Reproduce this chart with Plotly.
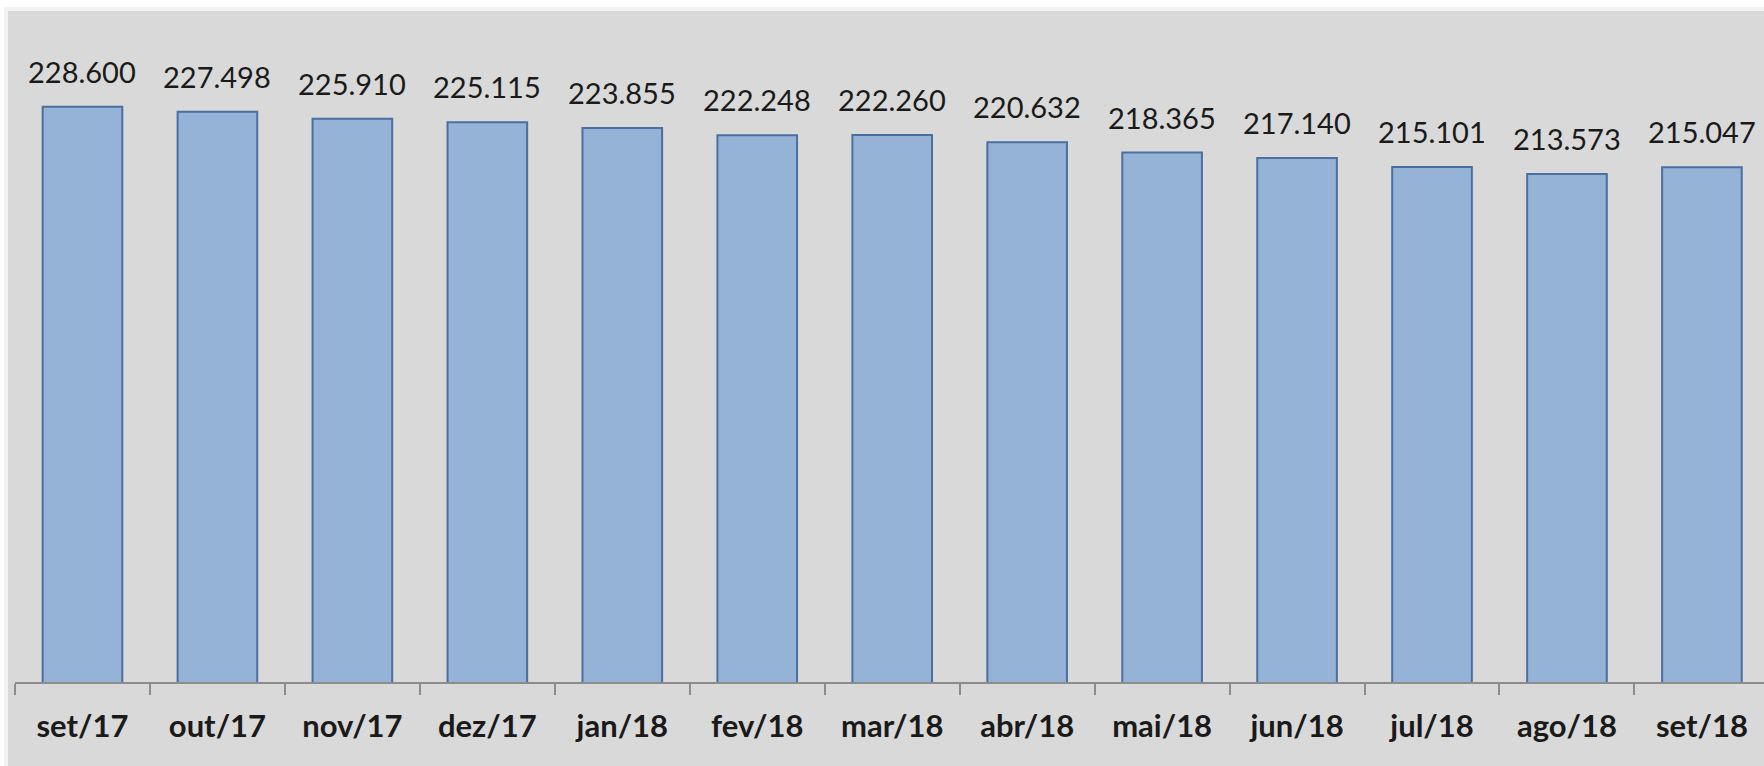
import plotly.graph_objects as go

categories = ["set/17", "out/17", "nov/17", "dez/17", "jan/18", "fev/18", "mar/18",
              "abr/18", "mai/18", "jun/18", "jul/18", "ago/18", "set/18"]
values = [228600, 227498, 225910, 225115, 223855, 222248, 222260,
          220632, 218365, 217140, 215101, 213573, 215047]
labels = ["228.600", "227.498", "225.910", "225.115", "223.855", "222.248", "222.260",
          "220.632", "218.365", "217.140", "215.101", "213.573", "215.047"]

W, H = 1764, 766
ML, MR, MT, MB = 15, 0, 11, 84
PW, PH = W - ML - MR, H - MT - MB

PANEL = "#d9d9d9"
TXT = "#1a1a1a"

fig = go.Figure()
fig.add_trace(go.Bar(
    x=categories, y=values,
    marker=dict(color="#95b3d7", line=dict(color="#4a6fa0", width=2)),
    hoverinfo="x+y",
))

for c, v, t in zip(categories, values, labels):
    fig.add_annotation(x=c, y=v, text=t, showarrow=False, yanchor="bottom",
                       yshift=16, font=dict(family="Lato", size=29, color=TXT))

# soft shadow along the top/left edge of the panel
fig.add_shape(type="rect", xref="paper", yref="paper",
              x0=(4 - ML) / PW, x1=1.0, y0=-MB / PH, y1=1.0 + 4 / PH,
              fillcolor="#f3f3f3", line=dict(width=0), layer="below")
# gray panel extending beyond plot area
fig.add_shape(type="rect", xref="paper", yref="paper",
              x0=(8 - ML) / PW, x1=1.0, y0=-MB / PH, y1=1.0,
              fillcolor=PANEL, line=dict(width=0), layer="below")

fig.update_layout(
    width=W, height=H,
    margin=dict(l=ML, r=MR, t=MT, b=MB, pad=0),
    paper_bgcolor="white", plot_bgcolor=PANEL,
    bargap=0.41, showlegend=False,
    separators=",.",
    xaxis=dict(
        range=[-0.5, 12.46], showline=True, linecolor="#8c8c8c", linewidth=2,
        ticks="outside", tickson="boundaries", ticklen=11, tickwidth=2, tickcolor="#8c8c8c",
        tickfont=dict(family="Lato", size=31, weight="bold", color=TXT),
        ticklabelstandoff=16,
        showgrid=False, zeroline=False, fixedrange=True,
    ),
    yaxis=dict(range=[100000, 250000], visible=False, showgrid=False, fixedrange=True),
)

fig.write_html("out.html", config={"displayModeBar": False},
               post_script="document.body.style.margin='0';document.body.style.overflow='hidden';")
